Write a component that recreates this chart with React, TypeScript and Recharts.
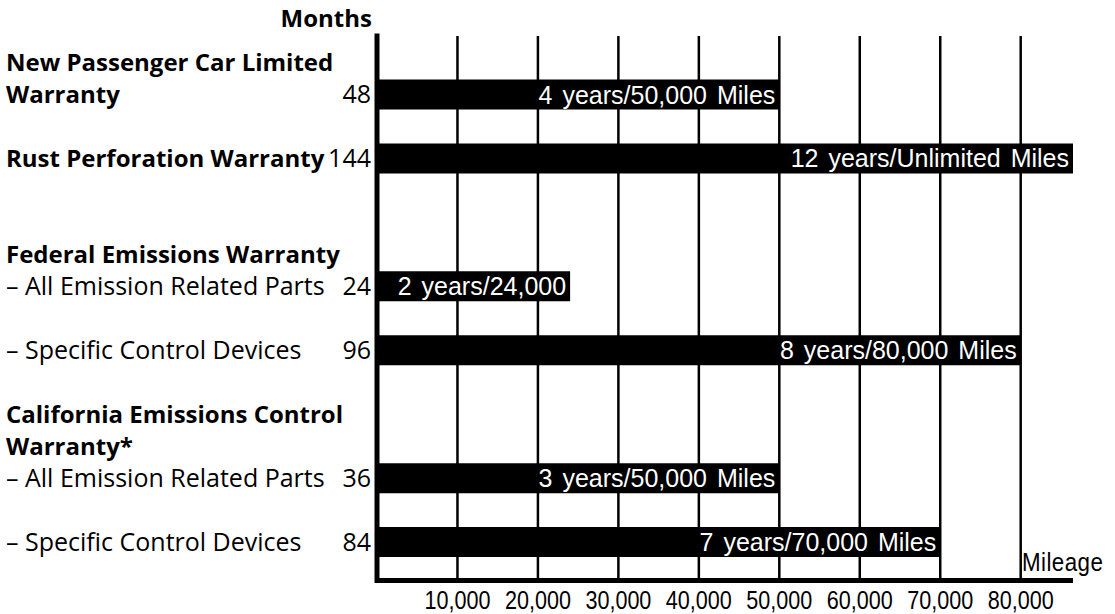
import React from 'react';
import { BarChart, Bar, XAxis, YAxis, CartesianGrid, LabelList, Label } from 'recharts';

// one row per slot on the chart, gap rows are left empty
const rowKeys = ['newCar', 'rust', 'gap1', 'fedAll', 'fedSpecific', 'gap2', 'calAll', 'calSpecific'];
const rowHeaders: string[][] = [
  ['New Passenger Car Limited'],
  [],
  [],
  ['Federal Emissions Warranty'],
  [],
  [],
  ['California Emissions Control', 'Warranty*'],
  [],
];
const rowTitles = [
  'Warranty',
  'Rust Perforation Warranty',
  '',
  '– All Emission Related Parts',
  '– Specific Control Devices',
  '',
  '– All Emission Related Parts',
  '– Specific Control Devices',
];
const titleBold = [true, true, false, false, false, false, false, false];
const months = [48, 144, null, 24, 96, null, 36, 84];
const miles = [50000, 86500, null, 24000, 80000, null, 50000, 70000];
const coverageLabels = [
  '4 years/50,000 Miles',
  '12 years/Unlimited Miles',
  '',
  '2 years/24,000',
  '8 years/80,000 Miles',
  '',
  '3 years/50,000 Miles',
  '7 years/70,000 Miles',
];
const mileageTicks = [10000, 20000, 30000, 40000, 50000, 60000, 70000, 80000];

const data = rowKeys.map((key, i) => ({ key, miles: miles[i], label: coverageLabels[i] }));

const LEFT_FONT = '"Open Sans", "Noto Sans", sans-serif';
const BAR_FONT = '"Liberation Sans", Arial, sans-serif';

const RowTick = (props: any) => {
  const { y, payload } = props;
  const i = rowKeys.indexOf(payload.value);
  if (i < 0) return null;
  const base = y + 8.5;
  const headers = rowHeaders[i];
  return (
    <g>
      {headers.map((h, k) => (
        <text key={k} x={6} y={base - 32 * (headers.length - k)} fontFamily={LEFT_FONT} fontWeight={700} fontSize={24} fill="#000">
          {h}
        </text>
      ))}
      {rowTitles[i] && (
        <text
          x={6}
          y={base}
          fontFamily={LEFT_FONT}
          fontWeight={titleBold[i] ? 700 : 400}
          fontSize={titleBold[i] ? 24 : 25}
          fill="#000"
        >
          {rowTitles[i]}
        </text>
      )}
      {months[i] != null && (
        <text x={371} y={base} textAnchor="end" fontFamily={LEFT_FONT} fontSize={25} fill="#000">
          {months[i]}
        </text>
      )}
    </g>
  );
};

// condensed look: no narrow font installed, so squeeze Liberation Sans
const MileTick = (props: any) => {
  const { x, y, payload } = props;
  return (
    <g transform={`translate(${x},${y + 20})`}>
      <text transform="scale(0.83,1)" textAnchor="middle" fontFamily={BAR_FONT} fontSize={26} fill="#000">
        {Number(payload.value).toLocaleString('en-US')}
      </text>
    </g>
  );
};

const BarText = (props: any) => {
  const { x, y, width, height, value } = props;
  if (!value) return null;
  return (
    <text
      x={x + width - 4}
      y={y + height / 2}
      textAnchor="end"
      dominantBaseline="central"
      fill="#fff"
      fontFamily={BAR_FONT}
      fontSize={25}
      style={{ wordSpacing: 3 }}
    >
      {value}
    </text>
  );
};

const MonthsLabel = (props: any) => {
  const { viewBox } = props;
  return (
    <text x={viewBox.x + viewBox.width - 5} y={viewBox.y - 9} textAnchor="end" fontFamily={LEFT_FONT} fontWeight={700} fontSize={24} fill="#000">
      Months
    </text>
  );
};

const MileageLabel = (props: any) => {
  const { viewBox } = props;
  return (
    <g transform={`translate(${viewBox.x + viewBox.width - 51},${viewBox.y - 10})`}>
      <text transform="scale(0.86,1)" fontFamily={BAR_FONT} fontSize={26} fill="#000" letterSpacing={0.5}>
        Mileage
      </text>
    </g>
  );
};

export default function App() {
  return (
    <div style={{ position: 'absolute', left: 0, top: 0, width: 1115, height: 614, background: '#fff' }}>
      <BarChart
        width={1115}
        height={614}
        data={data}
        layout="vertical"
        margin={{ top: 36, right: 42, bottom: 3.5, left: 8 }}
      >
        <CartesianGrid horizontal={false} syncWithTicks stroke="#000" strokeWidth={2.5} />
        <XAxis
          type="number"
          dataKey="miles"
          domain={[0, 86500]}
          allowDataOverflow
          ticks={mileageTicks}
          interval={0}
          axisLine={{ stroke: '#000', strokeWidth: 5 }}
          tickLine={false}
          tick={<MileTick />}
          height={30}
          label={<Label content={<MileageLabel />} />}
        />
        <YAxis
          type="category"
          dataKey="key"
          width={369}
          interval={0}
          padding={{ top: 26.5, bottom: 6.5 }}
          axisLine={{ stroke: '#000', strokeWidth: 5, strokeLinecap: 'square' }}
          tickLine={false}
          tick={<RowTick />}
          label={<Label content={<MonthsLabel />} />}
        />
        <Bar dataKey="miles" fill="#000" barSize={30} isAnimationActive={false}>
          <LabelList dataKey="label" content={<BarText />} />
        </Bar>
      </BarChart>
    </div>
  );
}
